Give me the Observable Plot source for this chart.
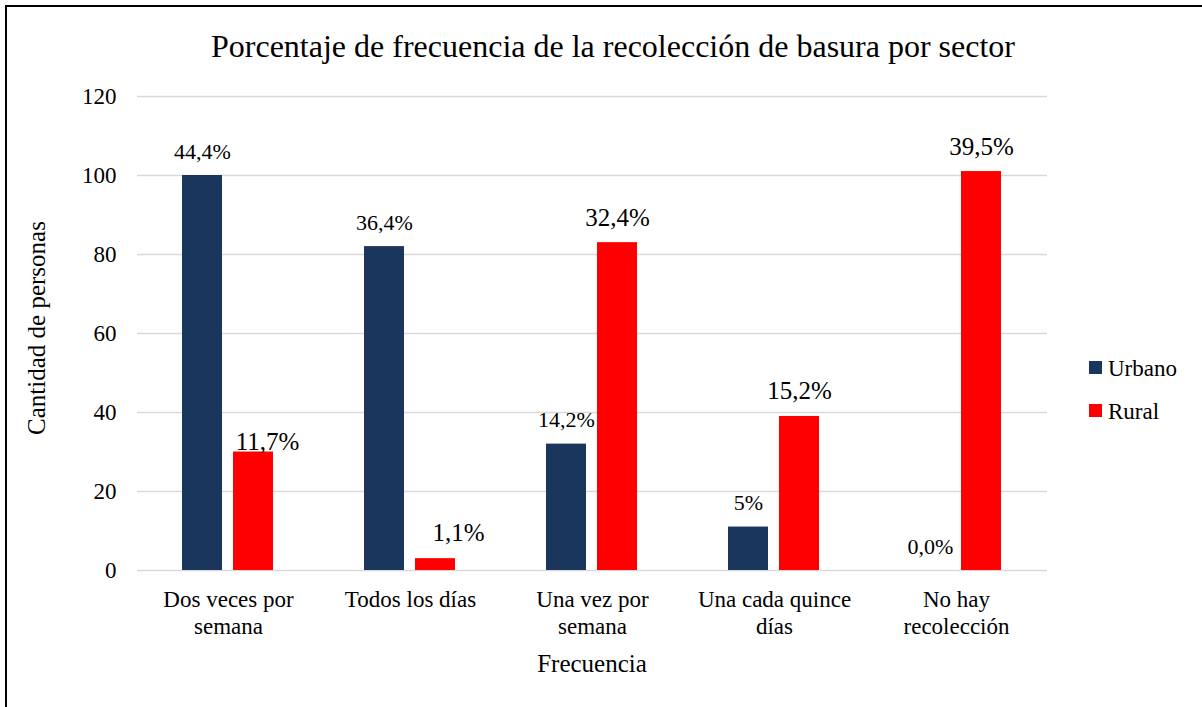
<!DOCTYPE html>
<html>
<head>
<meta charset="utf-8">
<script src="https://cdn.jsdelivr.net/npm/d3@7"></script>
<script src="https://cdn.jsdelivr.net/npm/@observablehq/plot@0.6"></script>
<style>
html, body { margin: 0; padding: 0; background: #fff; overflow: hidden; }
#chart { position: absolute; left: 0; top: 0; }
#frame { position: absolute; left: 5px; top: 5px; width: 1400px; height: 900px; border: 2px solid #000; pointer-events: none; }
</style>
</head>
<body>
<div id="chart"></div>
<div id="frame"></div>
<script>
// ---- data ----
const categories = ["Dos veces por semana", "Todos los días", "Una vez por semana", "Una cada quince días", "No hay recolección"];
const xTickLabels = ["Dos veces por\nsemana", "Todos los días", "Una vez por\nsemana", "Una cada quince\ndías", "No hay\nrecolección"];
const sectors = ["Urbano", "Rural"];
const urbano = [100, 82, 32, 11, 0];
const rural = [30, 3, 83, 39, 101];
const urbanoLabels = ["44,4%", "36,4%", "14,2%", "5%", "0,0%"];
const ruralLabels = ["11,7%", "1,1%", "32,4%", "15,2%", "39,5%"];
const yTicks = [0, 20, 40, 60, 80, 100, 120];
const titleText = "Porcentaje de frecuencia de la recolección de basura por sector";
const yTitle = "Cantidad de personas";
const xTitle = "Frecuencia";
const colors = ["#1b365d", "#ff0000"];

// ---- table built from arrays ----
const rows = categories.flatMap((c, i) => [
  {cat: c, sector: "Urbano", value: urbano[i], label: urbanoLabels[i]},
  {cat: c, sector: "Rural", value: rural[i], label: ruralLabels[i]}
]);
const tickLabel = new Map(categories.map((c, i) => [c, xTickLabels[i]]));
const FONT = "'Liberation Serif', 'Times New Roman', serif";
const isU = d => d.sector === "Urbano";
const isR = d => d.sector === "Rural";
const common = {fx: "cat", x: "sector", y: "value", text: "label", lineAnchor: "bottom", fill: "#000", fontFamily: FONT};

const plot = Plot.plot({
  width: 1202,
  height: 707,
  marginTop: 96,
  marginBottom: 137,
  marginLeft: 135,
  marginRight: 153,
  style: {fontFamily: FONT, fontSize: "23px", color: "#000", background: "transparent", overflow: "visible"},
  fx: {domain: categories, padding: 0},
  x: {domain: sectors, paddingInner: 0.2115, paddingOuter: 0.862, axis: null},
  y: {domain: [0, 120]},
  color: {domain: sectors, range: colors},
  marks: [
    Plot.gridY(yTicks, {stroke: "#d9d9d9", strokeOpacity: 1, strokeWidth: 1.5}),
    Plot.axisY(yTicks, {tickSize: 0, tickPadding: 21, label: null, fontSize: 23, fontFamily: FONT, fill: "#000"}),
    Plot.axisFx({anchor: "bottom", tickSize: 0, tickPadding: 18, label: null, fontSize: 23, fontFamily: FONT, fill: "#000", lineHeight: 1.15, tickFormat: d => tickLabel.get(d)}),
    Plot.barY(rows, {fx: "cat", x: "sector", y: "value", fill: "sector"}),
    Plot.text(rows, {...common, filter: isU, dy: -17, fontSize: 22}),
    Plot.text(rows, {...common, filter: d => isR(d) && d.cat !== categories[0] && d.cat !== categories[1], dy: -17, fontSize: 25}),
    Plot.text(rows, {...common, filter: d => isR(d) && d.cat === categories[0], dx: 14, dy: -2, fontSize: 25}),
    Plot.text(rows, {...common, filter: d => isR(d) && d.cat === categories[1], dx: 23, dy: -18, fontSize: 25})
  ]
});

document.getElementById("chart").appendChild(plot);

// ---- titles and legend ----
const svg = d3.select(plot);
const over = svg.append("g").attr("font-family", FONT).attr("fill", "#000");
over.append("text")
  .attr("x", 613).attr("y", 57)
  .attr("text-anchor", "middle")
  .attr("font-size", 32)
  .text(titleText);
over.append("text")
  .attr("transform", "translate(45,328) rotate(-90)")
  .attr("text-anchor", "middle")
  .attr("font-size", 25)
  .text(yTitle);
over.append("text")
  .attr("x", 592).attr("y", 672)
  .attr("text-anchor", "middle")
  .attr("font-size", 25)
  .text(xTitle);

const colorScale = plot.scale("color");
const legend = over.append("g").attr("transform", "translate(1089,361)");
colorScale.domain.forEach((s, i) => {
  const g = legend.append("g").attr("transform", `translate(0,${i * 43})`);
  g.append("rect").attr("width", 13).attr("height", 13).attr("fill", colorScale.range[i]);
  g.append("text").attr("x", 19).attr("y", 14.5).attr("text-anchor", "start").attr("font-size", 23).text(s);
});
</script>
</body>
</html>
